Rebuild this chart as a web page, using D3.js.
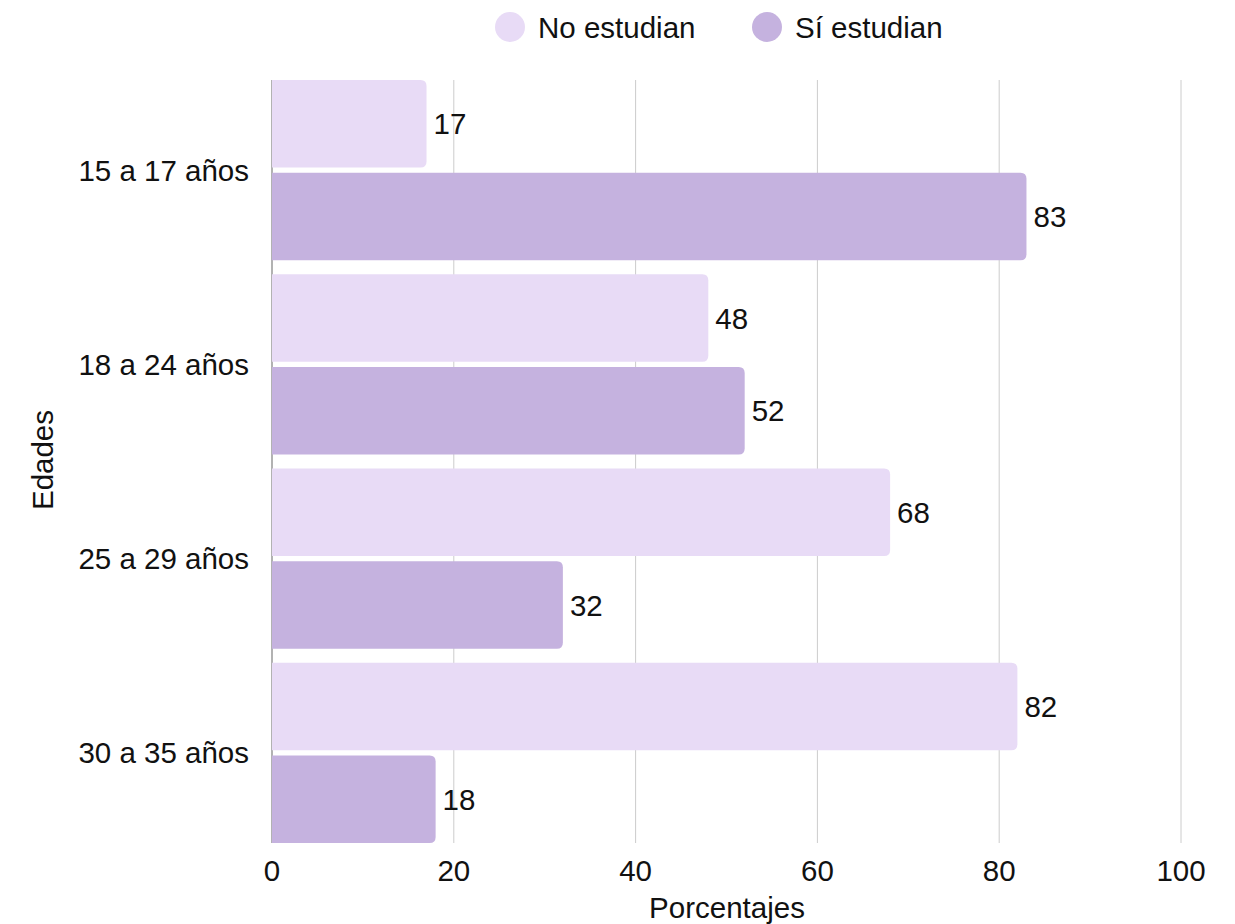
<!DOCTYPE html>
<html><head><meta charset="utf-8">
<script src="https://cdn.jsdelivr.net/npm/d3@7"></script>
<style>body{margin:0;background:#fff;font-family:"Liberation Sans",Arial,sans-serif;}</style>
</head><body><svg id="c" width="1235" height="924"></svg>
<script>
const categories = ["15 a 17 años","18 a 24 años","25 a 29 años","30 a 35 años"];
const seriesNames = ["No estudian","Sí estudian"];
const noEstudian = [17,48,68,82];
const siEstudian = [83,52,32,18];
const xTicks = [0,20,40,60,80,100];
const colors = ["#e8dbf6","#c5b2df"];

(function(){
const svg = d3.select("#c");
const pLeft=272, pRight=1181, pTop=80, pBottom=843;
const fs = 29.5;
const x = d3.scaleLinear().domain([0,100]).range([pLeft,pRight]);
const y = d3.scaleBand().domain(categories).range([pTop,pBottom]).paddingInner(0.072).paddingOuter(0);
const ySub = d3.scaleBand().domain(seriesNames).range([0,y.bandwidth()]).paddingInner(0.055);
const font = "'Liberation Sans', Arial, sans-serif";

// gridlines
svg.append("g").selectAll("line").data(xTicks.slice(1)).join("line")
  .attr("x1",d=>x(d)).attr("x2",d=>x(d)).attr("y1",pTop).attr("y2",pBottom)
  .attr("stroke","#cccccc").attr("stroke-width",1);
// left axis line
svg.append("line").attr("x1",pLeft).attr("x2",pLeft).attr("y1",pTop).attr("y2",pBottom)
  .attr("stroke","#999").attr("stroke-width",1.5);

const data = categories.map((c,i)=>({cat:c, vals:[{s:seriesNames[0],v:noEstudian[i],k:0},{s:seriesNames[1],v:siEstudian[i],k:1}]}));
const r=6;
function barPath(x0,y0,w,h){
  const rr=Math.min(r,w);
  return `M${x0},${y0}H${x0+w-rr}Q${x0+w},${y0} ${x0+w},${y0+rr}V${y0+h-rr}Q${x0+w},${y0+h} ${x0+w-rr},${y0+h}H${x0}Z`;
}
const g = svg.append("g").selectAll("g").data(data).join("g")
  .attr("transform",d=>`translate(0,${y(d.cat)})`);
g.selectAll("path").data(d=>d.vals).join("path")
  .attr("d",d=>barPath(x(0),ySub(d.s),x(d.v)-x(0),ySub.bandwidth()))
  .attr("fill",d=>colors[d.k]);
g.selectAll("text").data(d=>d.vals).join("text")
  .attr("x",d=>x(d.v)+7).attr("y",d=>ySub(d.s)+ySub.bandwidth()/2)
  .attr("dy","0.36em").attr("font-family",font).attr("font-size",fs).attr("fill","#111")
  .text(d=>d.v);

// y category labels
svg.append("g").selectAll("text").data(categories).join("text")
  .attr("x",249).attr("y",d=>y(d)+y.bandwidth()/2).attr("dy","0.36em")
  .attr("text-anchor","end").attr("font-family",font).attr("font-size",fs).attr("fill","#111")
  .text(d=>d);
// x tick labels
svg.append("g").selectAll("text").data(xTicks).join("text")
  .attr("x",d=>x(d)).attr("y",870).attr("dy","0.36em")
  .attr("text-anchor","middle").attr("font-family",font).attr("font-size",fs).attr("fill","#111")
  .text(d=>d);
// axis titles
svg.append("text").attr("x",727).attr("y",907).attr("dy","0.36em").attr("text-anchor","middle")
  .attr("font-family",font).attr("font-size",fs).attr("fill","#111").text("Porcentajes");
svg.append("text").attr("transform","translate(42,460) rotate(-90)").attr("dy","0.36em").attr("text-anchor","middle")
  .attr("font-family",font).attr("font-size",fs).attr("fill","#111").text("Edades");

// legend
const legX=[510,767];
const leg = svg.append("g").selectAll("g").data(seriesNames).join("g")
  .attr("transform",(d,i)=>`translate(${legX[i]},27)`);
leg.append("circle").attr("r",15).attr("fill",(d,i)=>colors[i]);
leg.append("text").attr("x",28).attr("dy","0.36em").attr("font-family",font).attr("font-size",fs).attr("fill","#111").text(d=>d);
})();
</script></body></html>
